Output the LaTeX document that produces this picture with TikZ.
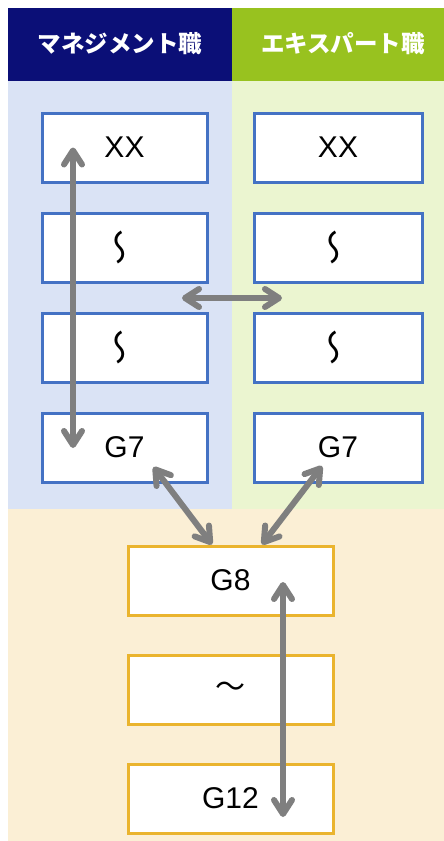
\documentclass[tikz,border=0pt]{standalone}
\usepackage{fontspec}
\setmainfont{Liberation Sans}
\newfontfamily\jpfont{Noto Sans CJK JP}
\usetikzlibrary{arrows.meta,calc}

\definecolor{navyhead}{HTML}{0B0F77}
\definecolor{greenhead}{HTML}{98C21F}
\definecolor{mgmtbg}{HTML}{DAE3F5}
\definecolor{expbg}{HTML}{EBF5D0}
\definecolor{commonbg}{HTML}{FBEFD5}
\definecolor{blueline}{HTML}{4472C4}
\definecolor{orangeline}{HTML}{EAB42E}
\definecolor{arrowgray}{HTML}{7F7F7F}

\tikzset{
  gradebox/.style={draw=blueline, line width=3pt, fill=white,
    minimum height=69pt, inner sep=0pt,
    font=\fontsize{30}{36}\selectfont},
  lowbox/.style={gradebox, draw=orangeline, minimum width=205pt},
  headtext/.style={text=white, font=\jpfont\bfseries\fontsize{23.5}{28}\selectfont},
  vwave/.style={font=\jpfont\fontsize{36}{40}\selectfont, rotate=90, xscale=-1},
  grayarrow/.style={draw=arrowgray, line width=6pt,
    {Straight Barb[round,length=14pt,width=18pt]}-{Straight Barb[round,length=14pt,width=18pt]}},
}

\begin{document}
\begin{tikzpicture}[x=1pt,y=-1pt]
  \useasboundingbox (0,0) rectangle (444,841);

  % column backgrounds
  \fill[mgmtbg]   (8,81)   rectangle (232,509);
  \fill[expbg]    (232,81) rectangle (444,509);
  \fill[commonbg] (8,509)  rectangle (444,841);

  % headers
  \fill[navyhead]  (8,8)   rectangle (232,81);
  \fill[greenhead] (232,8) rectangle (444,81);
  \node[headtext] (hm) at (120,44) {マネジメント職};
  \node[headtext] (he) at (343,44) {エキスパート職};

  % management track
  \node[gradebox, minimum width=165pt] (mXX) at (124.5,147.5) {XX};
  \node[gradebox, minimum width=165pt] (mW1) at (124.5,247.5) {};
  \node[gradebox, minimum width=165pt] (mW2) at (124.5,347.5) {};
  \node[gradebox, minimum width=165pt] (mG7) at (124.5,447.5) {G7};
  \node[vwave] at (mW1.center) {〜};
  \node[vwave] at (mW2.center) {〜};

  % expert track
  \node[gradebox, minimum width=168pt] (eXX) at (338,147.5) {XX};
  \node[gradebox, minimum width=168pt] (eW1) at (338,247.5) {};
  \node[gradebox, minimum width=168pt] (eW2) at (338,347.5) {};
  \node[gradebox, minimum width=168pt] (eG7) at (338,447.5) {G7};
  \node[vwave] at (eW1.center) {〜};
  \node[vwave] at (eW2.center) {〜};

  % common grades
  \node[lowbox] (cG8)  at (230.5,580.5) {G8};
  \node[lowbox] (cMid) at (230.5,689.5) {\jpfont 〜};
  \node[lowbox] (cG12) at (230.5,798.5) {G12};

  % arrow end points
  \coordinate (mTop) at ($(mXX.center)+(-51.5,0)$);
  \coordinate (mBot) at ($(mG7.center)+(-51.5,0.5)$);
  \coordinate (xL) at (182,298);
  \coordinate (xR) at (282,298);
  \coordinate (dL1) at ($(mG7.center)+(29,19.5)$);
  \coordinate (dL2) at ($(cG8.north)+(-18.5,0)$);
  \coordinate (dR1) at ($(eG7.center)+(-16,18.5)$);
  \coordinate (dR2) at ($(cG8.north)+(31.5,0)$);
  \coordinate (cTop) at ($(cG8.center)+(52.5,1.5)$);
  \coordinate (cBot) at ($(cG12.center)+(52.5,18.5)$);

  % arrows
  \draw[grayarrow] (mTop) -- (mBot);
  \draw[grayarrow] (xL) -- (xR);
  \draw[grayarrow] (dL1) -- (dL2);
  \draw[grayarrow] (dR1) -- (dR2);
  \draw[grayarrow] (cTop) -- (cBot);
\end{tikzpicture}
\end{document}
